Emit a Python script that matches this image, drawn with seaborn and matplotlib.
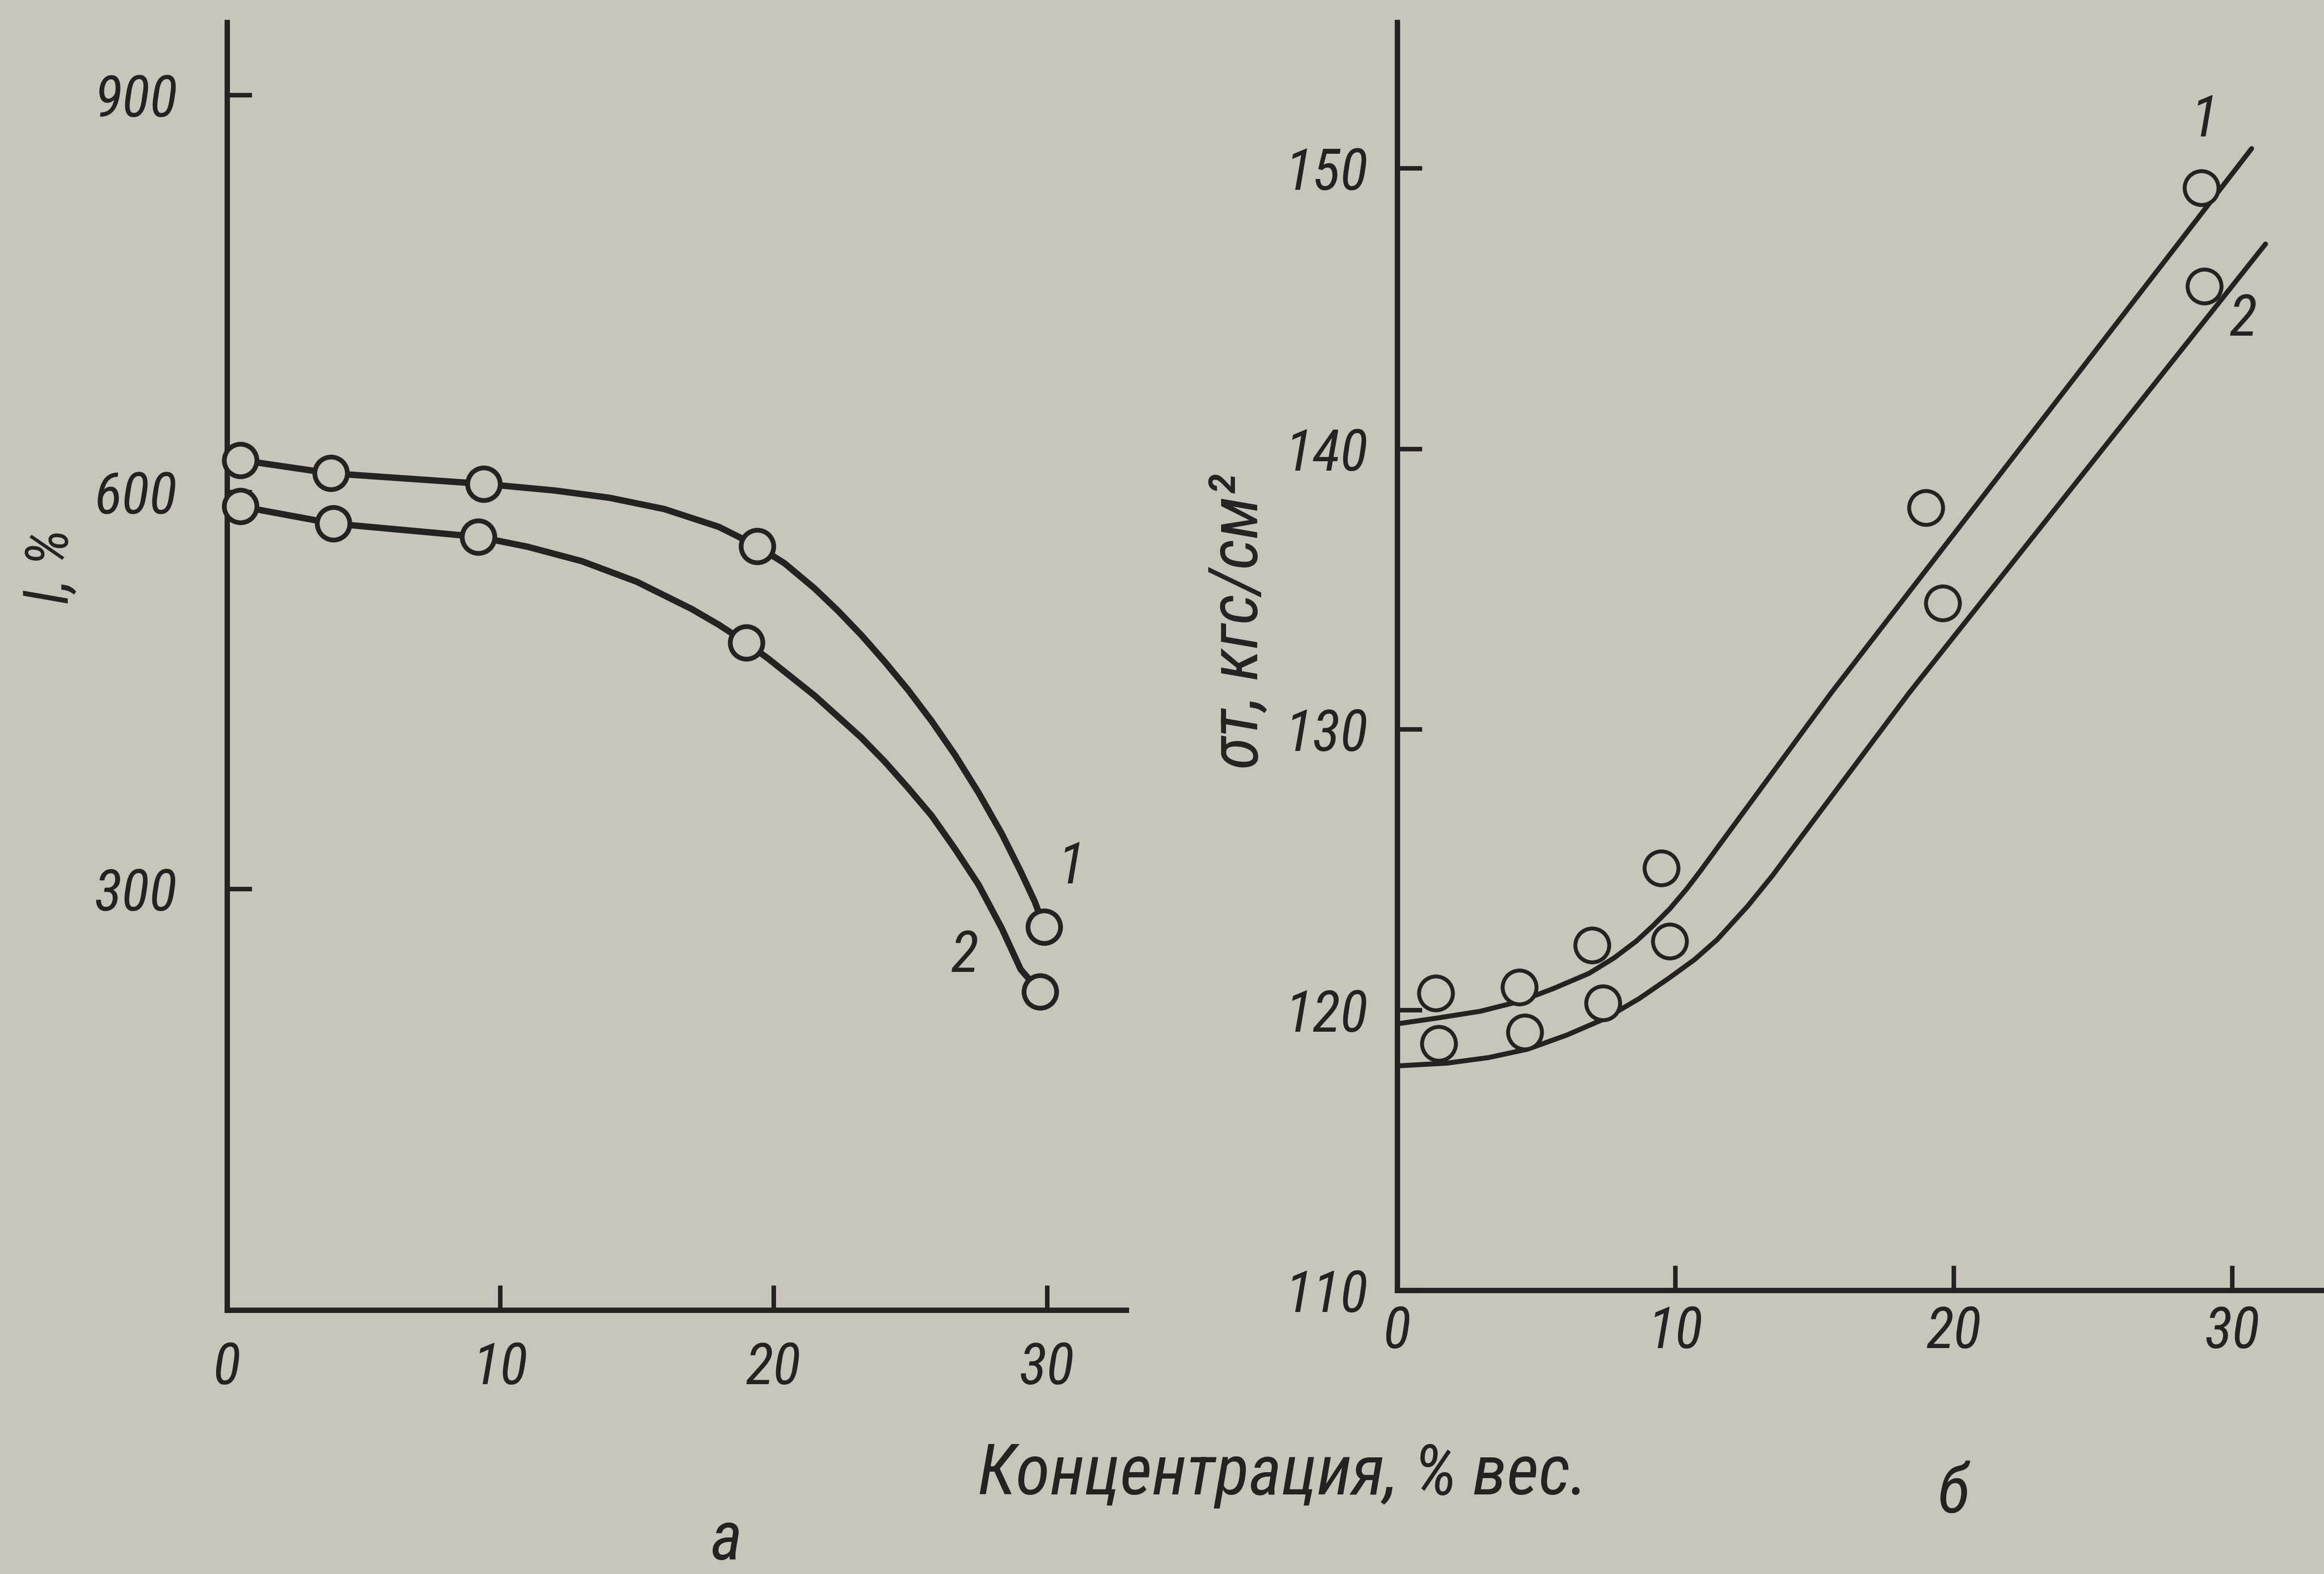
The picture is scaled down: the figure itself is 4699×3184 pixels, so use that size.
import pandas as pd
import seaborn as sns
import matplotlib.pyplot as plt
from matplotlib import font_manager

# ---- панель а: относительное удлинение l, % ----
conc_a1 = [0.5, 3.8, 9.4, 19.4, 29.9]
elong_a1 = [624, 614, 606, 559, 271]
conc_a2 = [0.5, 3.9, 9.2, 19.0, 29.75]
elong_a2 = [589, 576, 566, 486, 222]

# проведённые кривые
curve_a1_x = [0.5, 3.8, 9.4, 12.0, 14.0, 16.0, 18.0, 19.4, 20.4, 21.5, 22.36, 23.22,
              24.07, 24.93, 25.79, 26.64, 27.5, 28.35, 29.04, 29.56, 29.9]
curve_a1_y = [624, 614, 606, 601, 595.5, 587, 573.5, 559, 546, 527, 510, 491.5,
              471.5, 450, 426.5, 401, 372.5, 341.5, 313, 290, 271]
curve_a2_x = [0.5, 3.9, 9.2, 11.0, 13.0, 15.0, 17.0, 18.0, 19.0, 19.8, 20.65, 21.5,
              22.36, 23.22, 24.07, 24.93, 25.79, 26.64, 27.5, 28.35, 29.04, 29.75]
curve_a2_y = [589, 576, 566, 558.5, 547.5, 532, 511.5, 499.5, 486, 474, 460, 446,
              430, 414, 396, 376, 355, 330, 303, 270, 239, 222]

# ---- панель б: предел прочности σт, кгс/см² ----
conc_b1 = [1.4, 4.4, 7.0, 9.5, 19.0, 28.9]
sigma_b1 = [120.6, 120.8, 122.3, 125.05, 137.9, 149.3]
conc_b2 = [1.5, 4.6, 7.4, 9.8, 19.6, 29.0]
sigma_b2 = [118.8, 119.2, 120.25, 122.45, 134.5, 145.8]

curve_b1_x = [0, 1.4, 3.0, 4.4, 5.6, 6.9, 7.8, 8.6, 9.2, 9.8, 10.4, 10.9, 11.6, 15.6, 30.7]
curve_b1_y = [119.5, 119.7, 119.95, 120.3, 120.75, 121.3, 121.85, 122.45, 123.0, 123.6,
              124.3, 124.95, 125.9, 131.3, 150.7]
curve_b2_x = [0, 1.8, 3.3, 4.7, 6.1, 7.5, 8.7, 9.8, 10.7, 11.5, 12.6, 13.5, 14.4, 18.4, 31.2]
curve_b2_y = [118.0, 118.1, 118.3, 118.6, 119.1, 119.7, 120.4, 121.15, 121.8, 122.5,
              123.7, 124.8, 126.0, 131.3, 147.3]

yticks_a = [300, 600, 900]
yticks_b = [110, 120, 130, 140, 150]
xticks = [0, 10, 20, 30]

PAPER = "#c9c5bb"
INK = "#242322"

sns.set_theme(style="ticks", rc={"figure.facecolor": PAPER, "axes.facecolor": "none"})

# узкий курсив, если есть; иначе обычный DejaVu чуть мельче
installed = {f.name for f in font_manager.fontManager.ttflist}
narrow = [n for n in ["Roboto Condensed", "DejaVu Sans Condensed", "Noto Sans Condensed",
                      "Liberation Sans Narrow", "Open Sans Condensed"] if n in installed]
plt.rcParams["font.family"] = narrow[:1] + ["DejaVu Sans"]
plt.rcParams["font.style"] = "italic"
FS = 28 if narrow else 24

fig = plt.figure(figsize=(4699 / 300, 3184 / 300), dpi=300)
ax_a = fig.add_axes([0.0976, 0.1676, 0.387, 0.8183])
ax_b = fig.add_axes([0.6011, 0.1802, 0.3989, 0.8056])


def draw_curve(ax, cx, cy, lw):
    df = pd.DataFrame({"x": cx, "y": cy})
    sns.lineplot(data=df, x="x", y="y", ax=ax, color=INK, linewidth=lw,
                 sort=False, estimator=None, zorder=2)


def draw_points(ax, px, py, lw, s):
    df = pd.DataFrame({"x": px, "y": py})
    sns.scatterplot(data=df, x="x", y="y", ax=ax, s=s, color=PAPER,
                    edgecolor=INK, linewidth=lw, zorder=3, clip_on=False)


draw_curve(ax_a, curve_a1_x, curve_a1_y, 3.1)
draw_curve(ax_a, curve_a2_x, curve_a2_y, 3.1)
draw_points(ax_a, conc_a1, elong_a1, 2.3, 250)
draw_points(ax_a, conc_a2, elong_a2, 2.3, 250)

draw_curve(ax_b, curve_b1_x, curve_b1_y, 2.4)
draw_curve(ax_b, curve_b2_x, curve_b2_y, 2.4)
draw_points(ax_b, conc_b1, sigma_b1, 1.9, 270)
draw_points(ax_b, conc_b2, sigma_b2, 1.9, 270)

ax_a.set_xlim(0, 32.9)
ax_a.set_ylim(-18.6, 955)
ax_b.set_xlim(0, 33.3)
ax_b.set_ylim(110, 155.2)

ax_a.set_yticks(yticks_a)
ax_b.set_yticks(yticks_b)
for ax in (ax_a, ax_b):
    ax.set_xticks(xticks)
    ax.set_xlabel("")
    ax.set_ylabel("")
    sns.despine(ax=ax)
    for side in ("left", "bottom"):
        ax.spines[side].set_linewidth(2.6)
        ax.spines[side].set_color(INK)
    ax.tick_params(direction="in", length=12, width=2.2, color=INK,
                   labelsize=FS, labelcolor=INK)

ax_a.tick_params(axis="x", pad=15)
ax_a.tick_params(axis="y", pad=24)
ax_b.tick_params(axis="x", pad=7)
ax_b.tick_params(axis="y", pad=14)

# номера кривых
ax_a.text(30.9, 316, "1", fontsize=FS, color=INK, ha="center", va="center")
ax_a.text(27.0, 249, "2", fontsize=FS, color=INK, ha="center", va="center")
ax_b.text(29.0, 151.7, "1", fontsize=FS, color=INK, ha="center", va="center")
ax_b.text(30.4, 144.6, "2", fontsize=FS, color=INK, ha="center", va="center")

# подписи осей и панелей
fig.text(0.0223, 0.640, "l, %", rotation=90, fontsize=FS + 1, color=INK,
         ha="center", va="center")
fig.text(0.533, 0.605, "σт, кгс/см²", rotation=90, fontsize=FS + 5, color=INK,
         ha="center", va="center")
fig.text(0.552, 0.063, "Концентрация, % вес.", fontsize=FS + 6, color=INK,
         ha="center", va="center")
fig.text(0.3125, 0.021, "а", fontsize=FS + 5, color=INK, ha="center", va="center")
fig.text(0.8406, 0.051, "б", fontsize=FS + 5, color=INK, ha="center", va="center")

fig.savefig("out.png", dpi=300, facecolor=PAPER)
